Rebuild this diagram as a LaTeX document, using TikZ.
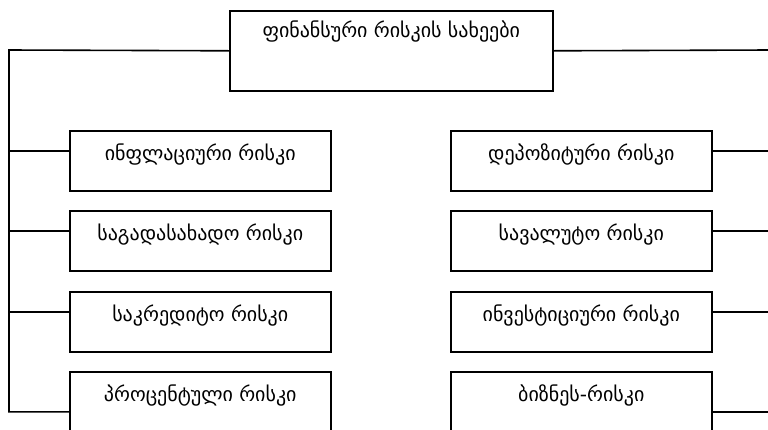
\documentclass[tikz,border=0pt]{standalone}
\usepackage{fontspec}
\newfontfamily\geo{DejaVu Sans}
\begin{document}
\begin{tikzpicture}[x=1pt, y=-1pt,
  box/.style={draw, line width=1.6pt, inner sep=0pt, align=center,
    font=\geo\fontsize{20}{22}\selectfont},
  sub/.style={box, minimum width=261pt, text height=30pt, text depth=30pt},
  link/.style={line width=1.6pt}]
  \clip (0,0) rectangle (768,429);
  % heading box
  \node[box, anchor=north west, minimum width=323pt, text height=27pt, text depth=53pt]
    (top) at (229,10) {ფინანსური რისკის სახეები};
  % left column
  \node[sub, anchor=north west] (l1) at (69,130) {ინფლაციური რისკი};
  \node[sub, anchor=north west] (l2) at (69,210) {საგადასახადო რისკი};
  \node[sub, anchor=north west] (l3) at (69,291) {საკრედიტო რისკი};
  \node[sub, anchor=north west, text depth=50pt] (l4) at (69,371) {პროცენტული რისკი};
  % right column
  \node[sub, anchor=north west] (r1) at (450,130) {დეპოზიტური რისკი};
  \node[sub, anchor=north west] (r2) at (450,210) {სავალუტო რისკი};
  \node[sub, anchor=north west] (r3) at (450,291) {ინვესტიციური რისკი};
  \node[sub, anchor=north west, text depth=50pt] (r4) at (450,371) {ბიზნეს-რისკი};
  % attachment points, 20pt below each box top
  \foreach \b in {l1,l2,l3} \coordinate (\b c) at ([yshift=10pt]\b.west);
  \foreach \b in {r1,r2,r3} \coordinate (\b c) at ([yshift=10pt]\b.east);
  \coordinate (l4c) at (l4.west);
  \coordinate (r4c) at (r4.east);
  % left spine
  \coordinate (lt) at (9,50);
  \coordinate (lb) at (lt |- l4c);
  \draw[link] (top.west) -- (lt) -- (lb) -- (l4c);
  \foreach \b in {l1,l2,l3} \draw[link] (\b c) -- (lt |- \b c);
  % right branches run off towards the right spine
  \coordinate (rt) at (770,50);
  \draw[link] (top.east) -- (rt);
  \foreach \b in {r1,r2,r3,r4} \draw[link] (\b c) -- (rt |- \b c);
\end{tikzpicture}
\end{document}
